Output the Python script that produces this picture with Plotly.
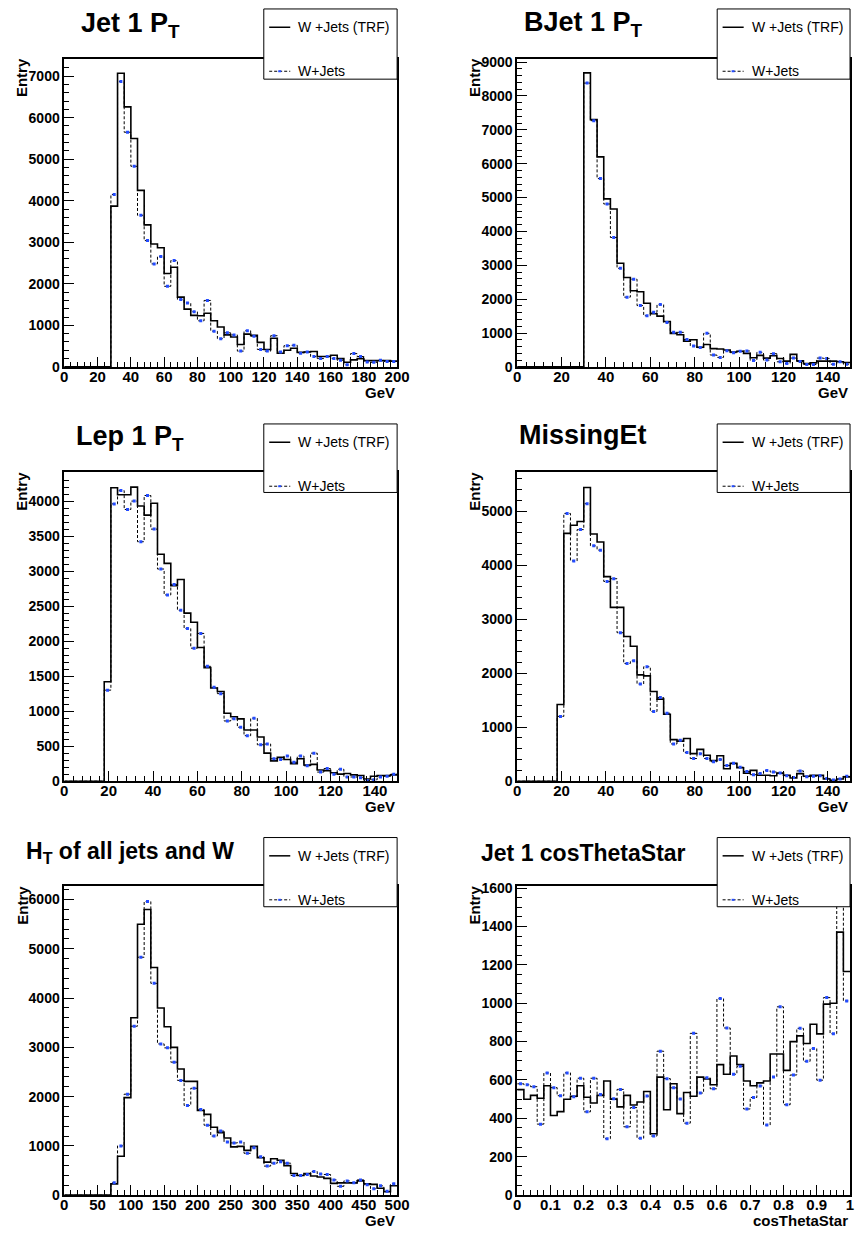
import plotly.graph_objects as go

# ---------------- data (bin contents) ----------------
# Jet 1 PT : 4 GeV bins, first filled bin starts at 28 GeV, axis 0-200
jet1_start, jet1_width, jet1_xmax = 28, 4, 200
jet1_trf = [3870, 7070, 6260, 5500, 4250, 3420, 2960, 2870, 2250, 2400, 1680, 1390, 1240, 1230,
            1290, 1110, 960, 770, 720, 540, 790, 760, 590, 420, 690, 330, 400, 450, 350, 360,
            370, 250, 250, 280, 200, 110, 170, 200, 150, 150, 150, 150, 140]
jet1_wjets = [4150, 6870, 5650, 4830, 3650, 3040, 2480, 2660, 1940, 2560, 1620, 1540, 1330, 1110,
              1600, 860, 680, 820, 770, 380, 870, 740, 420, 380, 750, 360, 510, 520, 330, 360,
              250, 200, 250, 200, 160, 50, 320, 250, 120, 110, 160, 130, 130]

# BJet 1 PT : 3 GeV bins from 30 GeV, axis 0-150
bjet1_start, bjet1_width, bjet1_xmax = 30, 3, 150
bjet1_trf = [8680, 7300, 6200, 4960, 4660, 3060, 2640, 2250, 2220, 1880, 1570, 1500, 1340, 990,
             950, 760, 800, 580, 660, 540, 530, 500, 440, 460, 400, 270, 340, 260, 330, 250,
             170, 370, 180, 100, 120, 170, 170, 170, 150, 130]
bjet1_wjets = [8380, 7270, 5560, 4810, 3820, 2910, 2060, 2590, 1810, 1510, 1610, 1840, 1310, 1020,
               1020, 810, 620, 570, 990, 350, 280, 480, 420, 460, 470, 190, 430, 200, 390, 150,
               100, 260, 160, 70, 70, 260, 250, 80, 150, 80]

# Lep 1 PT : 3 GeV bins from 18 GeV, axis 0-150
lep1_start, lep1_width, lep1_xmax = 18, 3, 150
lep1_trf = [1420, 4190, 4090, 4090, 4200, 3930, 3800, 3970, 3240, 3110, 2790, 2880, 2400, 2270,
            1910, 1620, 1330, 1280, 970, 920, 890, 730, 730, 630, 400, 290, 340, 310, 250, 320,
            230, 240, 160, 150, 120, 100, 110, 90, 80, 30, 70, 80, 80, 90]
lep1_wjets = [1300, 3960, 4150, 3880, 4000, 3420, 4080, 3600, 3030, 2660, 2810, 2440, 2180, 1900,
              2110, 1640, 1340, 1250, 860, 890, 770, 650, 900, 520, 530, 320, 310, 360, 270, 360,
              220, 400, 130, 180, 100, 170, 60, 60, 50, 10, 20, 60, 70, 100]

# MissingEt : 3 GeV bins from 18 GeV, axis 0-150
met_start, met_width, met_xmax = 18, 3, 150
met_trf = [1420, 4590, 4740, 4810, 5440, 4580, 4430, 3790, 3220, 3220, 2680, 2500, 1970, 1950,
           1660, 1520, 1240, 770, 740, 790, 510, 590, 480, 380, 470, 230, 330, 250, 150, 200,
           110, 110, 100, 150, 110, 60, 140, 90, 110, 110, 40, 10, 40, 80]
met_wjets = [1200, 4960, 4080, 4660, 5140, 4360, 4280, 3700, 3750, 2750, 2180, 2230, 1800, 2120,
             1290, 1550, 1260, 690, 760, 530, 420, 510, 420, 360, 400, 290, 330, 260, 180, 120,
             140, 200, 170, 150, 100, 70, 190, 80, 90, 100, 50, 20, 40, 90]

# HT of all jets and W : 10 GeV bins from 70 GeV, axis 0-500
ht_start, ht_width, ht_xmax = 70, 10, 500
ht_trf = [230, 790, 1980, 3600, 5500, 5800, 4620, 3800, 3420, 3000, 2560, 2310, 2310, 1720, 1640,
          1380, 1270, 1160, 980, 990, 910, 990, 760, 670, 740, 710, 600, 440, 400, 440, 390, 370,
          340, 240, 250, 250, 250, 290, 230, 220, 140, 70, 190]
ht_wjets = [250, 1000, 2050, 3430, 4830, 5960, 4300, 3070, 2990, 2700, 2330, 1820, 2170, 1740, 1420,
            1200, 1300, 1080, 1060, 1080, 850, 960, 780, 590, 650, 680, 650, 400, 400, 420, 480,
            430, 420, 310, 180, 290, 250, 310, 210, 130, 190, 80, 230]

# Jet 1 cosThetaStar : 0.02 bins from 0, axis 0-1
cts_start, cts_width, cts_xmax = 0, 0.02, 1
cts_trf = [550, 500, 520, 505, 570, 415, 435, 500, 515, 570, 510, 480, 520, 595, 500, 460, 520,
           470, 485, 540, 320, 615, 445, 580, 425, 535, 515, 615, 605, 575, 680, 630, 725, 680,
           595, 570, 585, 595, 735, 735, 650, 800, 830, 790, 890, 840, 995, 1000, 1370, 1165]
cts_wjets = [580, 575, 565, 370, 637, 560, 518, 637, 513, 609, 434, 609, 525, 294, 502, 551, 356,
             456, 296, 516, 308, 750, 607, 559, 501, 375, 843, 532, 611, 554, 1024, 871, 630, 671,
             449, 509, 569, 365, 616, 981, 471, 626, 869, 697, 764, 599, 1029, 841, 1750, 1012]

legend_labels = ["W +Jets (TRF)", "W+Jets"]

# ---------------- layout helpers ----------------
FIG_W, FIG_H = 865, 1244
FONT = "Liberation Sans, Arial, Helvetica, sans-serif"
COL_X = [(61.5, 401.0), (523.5, 863.0)]
ROW_Y = [(53.3, 365.0), (471.7, 784.0), (890.3, 1202.7)]
TITLE_CX = [129, 591]
LEG_X = [(265.0, 401.0), (727.5, 863.0)]
LEG_Y = [(3.0, 74.0), (422.7, 492.0), (841.0, 911.0)]
BLUE = "rgb(35,75,255)"


def fx(x):
    return x / FIG_W


def fy(y):
    return 1 - y / FIG_H


def bold_ticks(step, vmax):
    vals, labs = [], []
    k = 0
    while k * step <= vmax + 1e-9:
        v = round(k * step, 6)
        vals.append(v)
        labs.append("<b>%g</b>" % v)
        k += 1
    return vals, labs


panels = [
    dict(title="Jet 1 P<sub>T</sub>", tsize=27, ty=19, start=jet1_start, width=jet1_width,
         xmax=jet1_xmax, trf=jet1_trf, wj=jet1_wjets, xd=20, xm=4, ymax=7420, yd=1000, ym=200,
         xlabel="GeV", col=0, row=0),
    dict(title="BJet 1 P<sub>T</sub>", tsize=27, ty=18, start=bjet1_start, width=bjet1_width,
         xmax=bjet1_xmax, trf=bjet1_trf, wj=bjet1_wjets, xd=20, xm=4, ymax=9100, yd=1000, ym=200,
         xlabel="GeV", col=1, row=0),
    dict(title="Lep 1 P<sub>T</sub>", tsize=27, ty=437, start=lep1_start, width=lep1_width,
         xmax=lep1_xmax, trf=lep1_trf, wj=lep1_wjets, xd=20, xm=4, ymax=4410, yd=500, ym=100,
         xlabel="GeV", col=0, row=1),
    dict(title="MissingEt", tsize=27, ty=434, start=met_start, width=met_width,
         xmax=met_xmax, trf=met_trf, wj=met_wjets, xd=20, xm=4, ymax=5720, yd=1000, ym=200,
         xlabel="GeV", col=1, row=1),
    dict(title="H<sub>T</sub> of all jets and W", tsize=23, ty=856, start=ht_start, width=ht_width,
         xmax=ht_xmax, trf=ht_trf, wj=ht_wjets, xd=50, xm=10, ymax=6270, yd=1000, ym=200,
         xlabel="GeV", col=0, row=2),
    dict(title="Jet 1 cosThetaStar", tsize=23, ty=857, start=cts_start, width=cts_width,
         xmax=cts_xmax, trf=cts_trf, wj=cts_wjets, xd=0.1, xm=0.02, ymax=1609, yd=200, ym=50,
         xlabel="cosThetaStar", col=1, row=2),
]

fig = go.Figure()
layout = dict(width=FIG_W, height=FIG_H, autosize=False, margin=dict(l=0, r=0, t=0, b=0),
              paper_bgcolor="white", plot_bgcolor="white", showlegend=False,
              font=dict(family=FONT, color="black"))
annotations = []
shapes = []

for i, p in enumerate(panels):
    n = i + 1
    xa = "xaxis" if n == 1 else f"xaxis{n}"
    ya = "yaxis" if n == 1 else f"yaxis{n}"
    xr = "x" if n == 1 else f"x{n}"
    yr = "y" if n == 1 else f"y{n}"
    nzero = int(round(p["start"] / p["width"]))
    full_trf = [0] * nzero + p["trf"]
    full_wj = [0] * nzero + p["wj"]
    edges = [k * p["width"] for k in range(len(full_trf) + 1)]
    centers = [(k + 0.5) * p["width"] for k in range(nzero, len(full_wj))]

    fig.add_trace(go.Scatter(x=edges, y=full_trf + [full_trf[-1]], mode="lines",
                             line=dict(color="black", width=1.6, shape="hv"),
                             xaxis=xr, yaxis=yr, hoverinfo="skip"))
    fig.add_trace(go.Scatter(x=edges, y=full_wj + [full_wj[-1]], mode="lines",
                             line=dict(color="black", width=1, shape="hv", dash="3px,2px"),
                             xaxis=xr, yaxis=yr, hoverinfo="skip"))
    fig.add_trace(go.Scatter(x=centers, y=p["wj"], mode="markers",
                             marker=dict(symbol="square", size=3, color=BLUE, line=dict(width=0)),
                             xaxis=xr, yaxis=yr, hoverinfo="skip"))

    x0, x1 = COL_X[p["col"]]
    y0, y1 = ROW_Y[p["row"]]
    common = dict(showline=True, linecolor="black", linewidth=1.5, mirror=True, showgrid=False,
                  zeroline=False, ticks="inside", tickcolor="black", tickwidth=1)
    xtv, xtt = bold_ticks(p["xd"], p["xmax"])
    ytv, ytt = bold_ticks(p["yd"], p["ymax"])
    layout[xa] = dict(common, domain=[fx(x0), fx(x1)], anchor=yr, range=[0, p["xmax"]],
                      tickmode="array", tickvals=xtv, ticktext=xtt, ticklen=10,
                      ticklabelstandoff=-5,
                      tickfont=dict(family=FONT, size=15, color="black"),
                      minor=dict(ticks="inside", dtick=p["xm"], tick0=0, ticklen=5,
                                 tickcolor="black", showgrid=False))
    layout[ya] = dict(common, domain=[fy(y1), fy(y0)], anchor=xr, range=[0, p["ymax"]],
                      tickmode="array", tickvals=ytv, ticktext=ytt, ticklen=10,
                      tickfont=dict(family=FONT, size=14, color="black"),
                      minor=dict(ticks="inside", dtick=p["ym"], tick0=0, ticklen=5,
                                 tickcolor="black", showgrid=False))

    # title
    annotations.append(dict(text=p["title"], x=fx(TITLE_CX[p["col"]]), y=fy(p["ty"]),
                            xref="paper", yref="paper", xanchor="center", yanchor="middle",
                            showarrow=False,
                            font=dict(family=FONT, size=p["tsize"], color="black", weight="bold")))
    # y axis title
    annotations.append(dict(text="<b>Entry</b>", x=fx(x0 - 43), y=fy(y0 + 19.5), xref="paper",
                            yref="paper", xanchor="center", yanchor="middle", textangle=-90,
                            showarrow=False,
                            font=dict(family=FONT, size=15, color="black")))
    # x axis title
    annotations.append(dict(text="<b>%s</b>" % p["xlabel"], x=fx(x1), y=fy(y1 + 26), xref="paper",
                            yref="paper", xanchor="right", yanchor="middle", showarrow=False,
                            font=dict(family=FONT, size=15, color="black")))

    # legend box
    lx0, lx1 = LEG_X[p["col"]]
    ly0, ly1 = LEG_Y[p["row"]]
    shapes.append(dict(type="rect", xref="paper", yref="paper", x0=fx(lx0), x1=fx(lx1),
                       y0=fy(ly1), y1=fy(ly0), line=dict(color="black", width=1),
                       fillcolor="white", layer="above"))
    e1 = ly0 + 18.5
    e2 = ly0 + 63
    shapes.append(dict(type="line", xref="paper", yref="paper", x0=fx(lx0 + 5.5), x1=fx(lx0 + 27),
                       y0=fy(e1), y1=fy(e1), line=dict(color="black", width=1.5), layer="above"))
    shapes.append(dict(type="line", xref="paper", yref="paper", x0=fx(lx0 + 5.5), x1=fx(lx0 + 27),
                       y0=fy(e2), y1=fy(e2), line=dict(color="black", width=1, dash="3px,2px"),
                       layer="above"))
    mx = lx0 + 16.2
    shapes.append(dict(type="rect", xref="paper", yref="paper", x0=fx(mx - 1.5), x1=fx(mx + 1.5),
                       y0=fy(e2 + 1), y1=fy(e2 - 1), line=dict(width=0), fillcolor=BLUE,
                       layer="above"))
    for lab, ey in zip(legend_labels, [e1, e2]):
        annotations.append(dict(text=lab, x=fx(lx0 + 33), y=fy(ey), xref="paper", yref="paper",
                                xanchor="left", yanchor="middle", showarrow=False,
                                font=dict(family=FONT, size=14, color="black")))

layout["annotations"] = annotations
layout["shapes"] = shapes
fig.update_layout(**layout)
fig.write_html("out.html", config={"displayModeBar": False},
               post_script="document.body.style.margin='0';document.body.style.padding='0';")
